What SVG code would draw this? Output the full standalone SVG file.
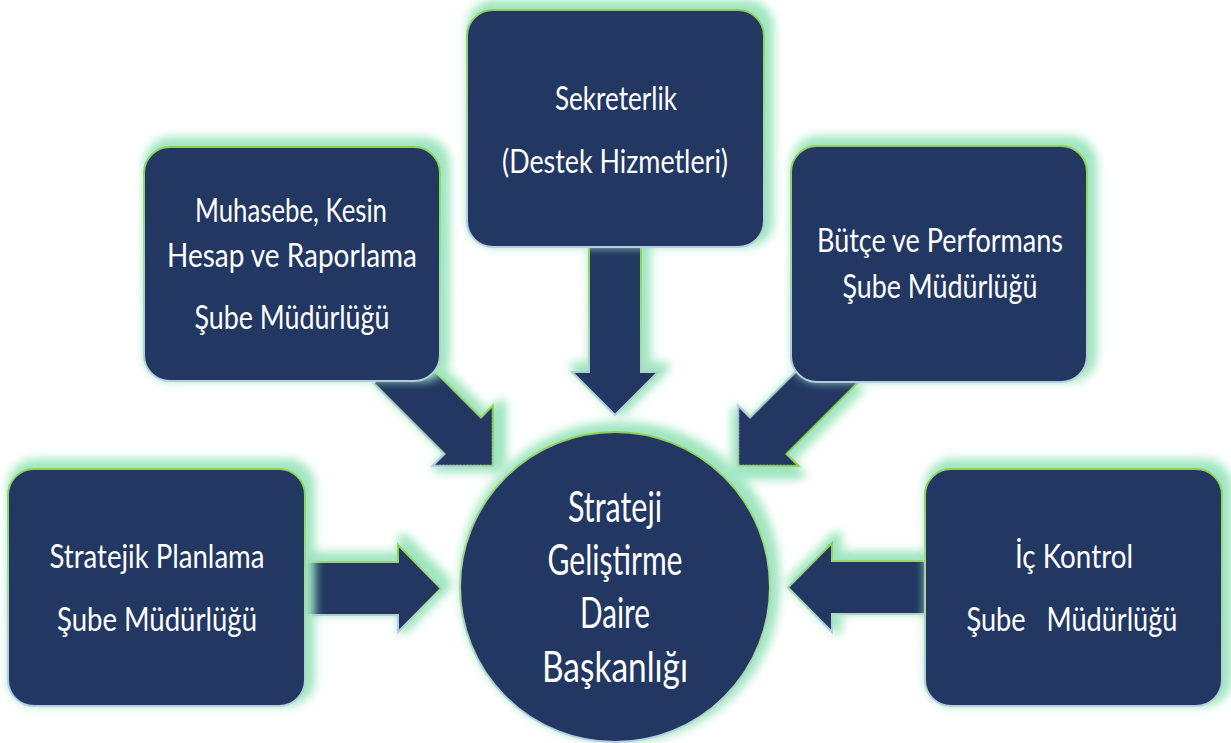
<svg xmlns="http://www.w3.org/2000/svg" width="1231" height="743" viewBox="0 0 1231 743">
<style>
.shape{fill:#213862;stroke:url(#edge);stroke-width:2;filter:url(#glow)}
.t{fill:#ffffff;font-family:Lato,"Open Sans","DejaVu Sans",sans-serif;font-size:32px;text-anchor:middle}
.c{font-size:43px}
</style>
<defs>
<linearGradient id="edge" x1="0" y1="0" x2="0" y2="1">
<stop offset="0" stop-color="#8fd04a"/>
<stop offset="0.5" stop-color="#a9d6a0"/>
<stop offset="1" stop-color="#b7cbe8"/>
</linearGradient>
<filter id="glow" x="-20%" y="-20%" width="140%" height="140%">
<feMorphology in="SourceAlpha" operator="dilate" radius="4" result="d"/>
<feGaussianBlur in="d" stdDeviation="5" result="b"/>
<feOffset in="b" dx="5" dy="-5" result="o"/>
<feFlood flood-color="#9fe6c0"/>
<feComposite in2="o" operator="in" result="g"/>
<feMerge><feMergeNode in="g"/><feMergeNode in="SourceGraphic"/></feMerge>
</filter>
</defs>
<rect width="1231" height="743" fill="#ffffff"/>
<g id="connectors">
<polygon class="shape" points="589,240 641,240 641,372 658,372 615,415 572,372 589,372"/>
<polygon class="shape" points="298,562 398,562 398,545 441,588.5 398,632 398,615 298,615"/>
<polygon class="shape" points="932,561 832,561 832,543 788,587.5 832,632 832,614 932,614"/>
<polygon class="shape" transform="translate(462.6,435.6) rotate(45)" points="-100,-26 0,-26 0,-43 43,0 0,43 0,26 -100,26"/>
<polygon class="shape" transform="translate(768.4,435.6) rotate(135)" points="-100,-26 0,-26 0,-43 43,0 0,43 0,26 -100,26"/>
</g>
<g id="node-muhasebe">
<rect class="shape" x="144" y="147" width="296" height="234" rx="26"/>
<text class="t" x="291" y="222" textLength="192" lengthAdjust="spacingAndGlyphs">Muhasebe, Kesin</text>
<text class="t" x="292" y="267" textLength="250" lengthAdjust="spacingAndGlyphs">Hesap ve Raporlama</text>
<text class="t" x="292" y="329" textLength="195" lengthAdjust="spacingAndGlyphs">Şube Müdürlüğü</text>
</g>
<g id="node-sekreterlik">
<rect class="shape" x="467" y="10" width="297" height="237" rx="26"/>
<text class="t" x="616" y="110" textLength="122" lengthAdjust="spacingAndGlyphs">Sekreterlik</text>
<text class="t" x="615" y="173" textLength="226" lengthAdjust="spacingAndGlyphs">(Destek Hizmetleri)</text>
</g>
<g id="node-butce">
<rect class="shape" x="791" y="146" width="296" height="236" rx="26"/>
<text class="t" x="940" y="252" textLength="246" lengthAdjust="spacingAndGlyphs">Bütçe ve Performans</text>
<text class="t" x="940" y="298" textLength="195" lengthAdjust="spacingAndGlyphs">Şube Müdürlüğü</text>
</g>
<g id="node-stratejik">
<rect class="shape" x="8" y="469" width="297" height="237" rx="26"/>
<text class="t" x="157" y="568" textLength="215" lengthAdjust="spacingAndGlyphs">Stratejik Planlama</text>
<text class="t" x="157" y="631" textLength="200" lengthAdjust="spacingAndGlyphs">Şube Müdürlüğü</text>
</g>
<g id="node-ickontrol">
<rect class="shape" x="925" y="469" width="297" height="237" rx="26"/>
<text class="t" x="1074" y="568" textLength="118" lengthAdjust="spacingAndGlyphs">İç Kontrol</text>
<text class="t" x="1072" y="631" textLength="211" lengthAdjust="spacingAndGlyphs" xml:space="preserve">Şube   Müdürlüğü</text>
</g>
<g id="node-center">
<circle class="shape" cx="615" cy="587" r="155"/>
<text class="t c" x="615" y="522" textLength="94" lengthAdjust="spacingAndGlyphs">Strateji</text>
<text class="t c" x="615" y="575" textLength="135" lengthAdjust="spacingAndGlyphs">Geliştirme</text>
<text class="t c" x="615" y="628" textLength="70" lengthAdjust="spacingAndGlyphs">Daire</text>
<text class="t c" x="615" y="682" textLength="146" lengthAdjust="spacingAndGlyphs">Başkanlığı</text>
</g>
</svg>
